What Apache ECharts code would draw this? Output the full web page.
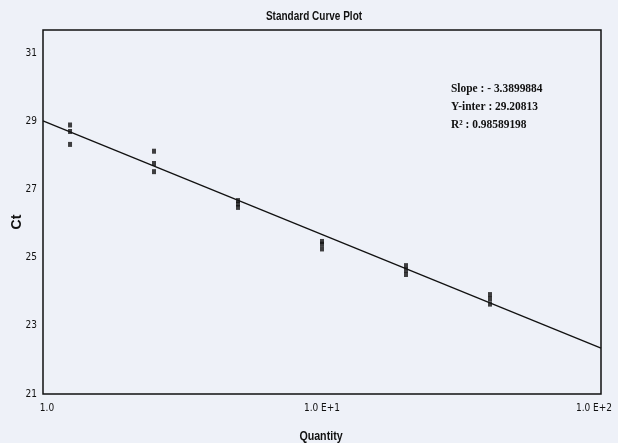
<!DOCTYPE html>
<html>
<head>
<meta charset="utf-8">
<script src="https://cdn.jsdelivr.net/npm/echarts@6/dist/echarts.min.js"></script>
<style>
html,body{margin:0;padding:0;background:#eef1f8;}
#c{width:618px;height:443px;}
</style>
</head>
<body>
<div id="c"></div>
<script>
// Data
const quantities = [1.25, 2.5, 5, 10, 20, 40];
const ctRep1 = [28.90, 28.13, 26.68, 25.48, 24.77, 23.92];
const ctRep2 = [28.71, 27.77, 26.58, 25.40, 24.64, 23.79];
const ctRep3 = [28.33, 27.53, 26.48, 25.26, 24.51, 23.64];
// standard curve line as drawn (ends of the plotted regression line)
const lineQuantities = [1, 100];
const lineCt = [29.02, 22.35];
const xTickValues = [1, 10, 100];
const xTickLabels = ['1.0', '1.0 E+1', '1.0 E+2'];
const yTicks = [21, 23, 25, 27, 29, 31];
const statLines = ['Slope : - 3.3899884', 'Y-inter : 29.20813', 'R\u00B2 : 0.98589198'];

const points = [];
quantities.forEach((q, i) => {
  points.push([q, ctRep1[i]], [q, ctRep2[i]], [q, ctRep3[i]]);
});
const fitLine = lineQuantities.map((q, i) => [q, lineCt[i]]);

const sans = '"Liberation Sans", Arial, sans-serif';
const narrow = '"DejaVu Sans Condensed", "Liberation Sans", sans-serif';
const chart = echarts.init(document.getElementById('c'), null, {renderer: 'canvas'});
chart.setOption({
  backgroundColor: '#eef1f8',
  animation: false,
  grid: {left: 43, right: 17, top: 30, bottom: 49, outerBoundsMode: 'none', containLabel: false,
         show: true, borderColor: '#111', borderWidth: 1.5, backgroundColor: 'transparent'},
  xAxis: {
    type: 'log', logBase: 10, min: 1, max: 100,
    axisLine: {show: false}, axisTick: {show: false}, splitLine: {show: false},
    axisLabel: {
      fontFamily: narrow, fontSize: 10, color: '#111', margin: 9,
      formatter: v => {
        const k = xTickValues.findIndex(t => Math.abs(t - v) < 1e-6);
        if (k < 0) return '';
        if (k === 0) return '{first|' + xTickLabels[k] + '}';
        if (k === xTickValues.length - 1) return '{last|' + xTickLabels[k] + '}';
        return xTickLabels[k];
      },
      rich: {
        first: {fontFamily: narrow, fontSize: 10, color: '#111', padding: [0, 0, 0, 8]},
        last: {fontFamily: narrow, fontSize: 10, color: '#111', padding: [0, 14, 0, 0]}
      }
    }
  },
  yAxis: {
    type: 'value', min: 21, max: 31.69, interval: 2,
    axisLine: {show: false}, axisTick: {show: false}, splitLine: {show: false},
    axisLabel: {
      fontFamily: narrow, fontSize: 10, color: '#111', margin: 6, showMaxLabel: false,
      formatter: v => yTicks.includes(v) ? String(v) : ''
    }
  },
  series: [
    {type: 'line', data: fitLine, symbol: 'none', lineStyle: {color: '#111', width: 1.3}, z: 2},
    {type: 'scatter', data: points, symbol: 'rect', symbolSize: [4, 5], itemStyle: {color: '#111'}, z: 3}
  ],
  graphic: [
    {
      type: 'text', x: 314, y: 17, scaleX: 0.8,
      style: {text: 'Standard Curve Plot', fontFamily: sans, fontWeight: 'bold', fontSize: 12.5,
              fill: '#111', align: 'center', verticalAlign: 'middle'}
    },
    {
      type: 'text', x: 321, y: 436, scaleX: 0.82,
      style: {text: 'Quantity', fontFamily: sans, fontWeight: 'bold', fontSize: 13,
              fill: '#111', align: 'center', verticalAlign: 'middle'}
    },
    {
      type: 'text', x: 17, y: 222, rotation: Math.PI / 2,
      style: {text: 'Ct', fontFamily: sans, fontWeight: 'bold', fontSize: 14,
              fill: '#111', align: 'center', verticalAlign: 'middle'}
    },
    {
      type: 'text', x: 451, y: 80, scaleX: 0.88,
      style: {
        text: statLines.join('\n'),
        fontFamily: '"Liberation Serif", "DejaVu Serif", serif', fontWeight: 'bold', fontSize: 13,
        lineHeight: 18, fill: '#111'
      }
    }
  ]
});
</script>
</body>
</html>
